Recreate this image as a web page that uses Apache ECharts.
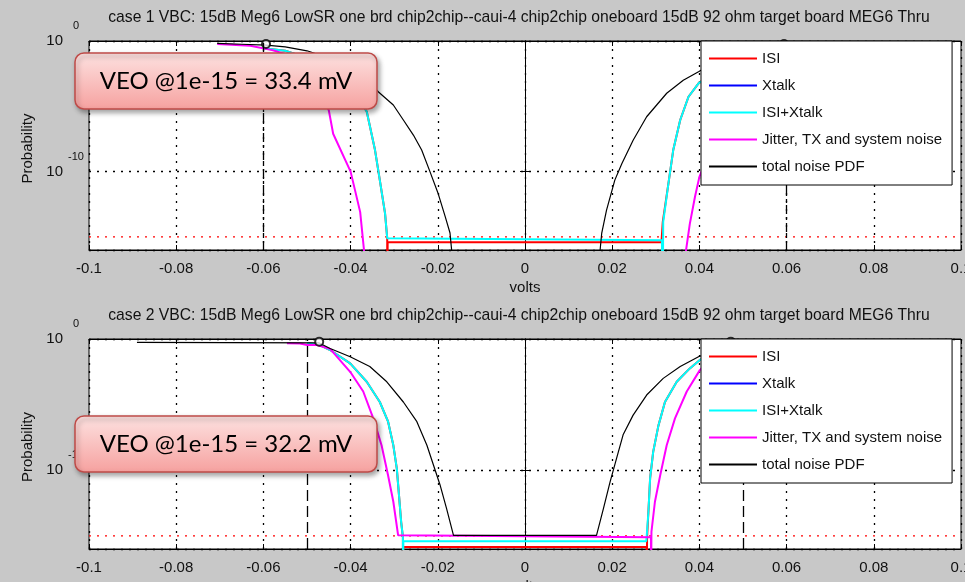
<!DOCTYPE html>
<html>
<head>
<meta charset="utf-8">
<script src="https://cdn.jsdelivr.net/npm/echarts@6/dist/echarts.min.js"></script>
<style>
html,body{margin:0;padding:0;background:#c8c8c8;}
#main{width:965px;height:582px;}
</style>
</head>
<body>
<div id="main"></div>
<script>
// curve points: [volts, log10(probability)]
var names = ['ISI', 'Xtalk', 'ISI+Xtalk', 'Jitter, TX and system noise', 'total noise PDF'];
var titles = [
	'case 1 VBC: 15dB Meg6 LowSR one brd chip2chip--caui-4 chip2chip oneboard 15dB 92 ohm target board MEG6 Thru',
	'case 2 VBC: 15dB Meg6 LowSR one brd chip2chip--caui-4 chip2chip oneboard 15dB 92 ohm target board MEG6 Thru'
];
var veoText = ['VEO @1e-15 = 33.4 mV', 'VEO @1e-15 = 32.2 mV'];
var berTarget = 1e-15;
var berLine = [[-0.1, berTarget], [0.1, berTarget]];

// case 1
var c1Isi = [[-0.060,-0.55],[-0.055,-0.75],[-0.050,-1.3],[-0.045,-2.2],[-0.040,-3.5],[-0.0363,-5.4],[-0.0344,-8.35],
	[-0.0333,-10.65],[-0.0321,-13.2],[-0.0316,-15.1],[-0.0316,-20],[-0.0315,-15.4],[0.0313,-15.4],[0.0316,-13.85],
	[0.0329,-10.9],[0.034,-8.35],[0.0356,-6.05],[0.0375,-4.27],[0.0398,-3.24],[0.045,-2.0],[0.050,-1.25],[0.055,-0.75],[0.060,-0.55]];
var c1Xtalk = [];
var c1IsiXtalk = [[-0.060,-0.55],[-0.055,-0.75],[-0.050,-1.3],[-0.045,-2.2],[-0.040,-3.5],[-0.0363,-5.4],[-0.0344,-8.35],
	[-0.0333,-10.65],[-0.0321,-13.2],[-0.0316,-15.1],[-0.0316,-15.25],[0.0314,-15.25],[0.0316,-20],[0.0317,-13.85],
	[0.0329,-10.9],[0.034,-8.35],[0.0356,-6.05],[0.0375,-4.27],[0.0398,-3.24],[0.045,-2.0],[0.050,-1.25],[0.055,-0.75],[0.060,-0.55]];
var c1Jitter = [[-0.0706,-0.23],[-0.063,-0.36],[-0.058,-0.7],[-0.055,-1.0],[-0.050,-2.0],[-0.045,-5.3],[-0.044,-7.1],
	[-0.040,-10.0],[-0.0378,-13.1],[-0.0369,-16.1],[-0.0368,-20],[0.0368,-20],[0.0369,-16.1],[0.0378,-14.0],[0.039,-11.9],
	[0.040,-10.4],[0.044,-7.1],[0.045,-5.3],[0.050,-2.0],[0.055,-1.0],[0.058,-0.7],[0.063,-0.36],[0.0706,-0.23]];
var c1Total = [[-0.0706,-0.18],[-0.065,-0.25],[-0.0594,-0.32],[-0.055,-0.45],[-0.050,-0.75],[-0.045,-1.3],[-0.0398,-2.35],
	[-0.0363,-3.0],[-0.0336,-3.9],[-0.0302,-4.9],[-0.0279,-6.05],[-0.0256,-7.2],[-0.0237,-8.35],[-0.0218,-10.0],[-0.0199,-11.7],
	[-0.0183,-13.45],[-0.0172,-14.7],[-0.0168,-16.1],[-0.0166,-20],[0.0170,-20],[0.0172,-16.1],[0.0176,-14.7],[0.0187,-12.95],
	[0.0206,-10.65],[0.0222,-9.4],[0.0248,-7.6],[0.0279,-5.8],[0.0325,-4.0],[0.0363,-3.0],[0.0398,-2.35],[0.045,-1.3],
	[0.050,-0.75],[0.055,-0.45],[0.0594,-0.32],[0.065,-0.25],[0.0706,-0.18]];
var c1EyeEdges = [-0.0594, 0.0594];
var c1EyeLevel = -0.23;

// case 2
var c2Isi = [[-0.050,-0.3],[-0.0472,-0.45],[-0.0447,-0.84],[-0.0401,-1.86],[-0.0363,-3.26],[-0.0333,-4.8],[-0.0314,-6.3],
	[-0.0302,-8.1],[-0.0294,-9.87],[-0.0289,-11.9],[-0.0284,-13.95],[-0.028,-15.1],[-0.028,-20],[-0.0279,-15.85],[0.0279,-15.85],
	[0.0279,-20],[0.028,-15.1],[0.0283,-13.2],[0.0287,-10.6],[0.0294,-8.6],[0.0306,-6.6],[0.0321,-4.8],[0.0348,-3.26],
	[0.0378,-2.24],[0.0401,-1.6],[0.0447,-0.84],[0.0472,-0.45],[0.050,-0.3]];
var c2Xtalk = [];
var c2IsiXtalk = [[-0.050,-0.3],[-0.0472,-0.45],[-0.0447,-0.84],[-0.0401,-1.86],[-0.0363,-3.26],[-0.0333,-4.8],[-0.0314,-6.3],
	[-0.0302,-8.1],[-0.0294,-9.87],[-0.0289,-11.9],[-0.0284,-13.95],[-0.028,-15.1],[-0.028,-20],[-0.0279,-15.4],[0.0278,-15.4],
	[0.0279,-15.1],[0.0283,-13.2],[0.0287,-10.6],[0.0294,-8.6],[0.0306,-6.6],[0.0321,-4.8],[0.0348,-3.26],[0.0378,-2.24],
	[0.0401,-1.6],[0.0447,-0.84],[0.0472,-0.45],[0.050,-0.3]];
var c2Jitter = [[-0.0546,-0.33],[-0.0516,-0.35],[-0.050,-0.45],[-0.0477,-0.46],[-0.0447,-0.75],[-0.0401,-2.5],[-0.0371,-4.0],
	[-0.0348,-6.05],[-0.0329,-8.1],[-0.0314,-10.4],[-0.0302,-12.4],[-0.0291,-14.96],[-0.0289,-15.1],[0.0289,-15.1],[0.0289,-20],
	[0.029,-14.7],[0.0298,-12.4],[0.031,-10.4],[0.0325,-8.1],[0.0344,-6.05],[0.0371,-4.0],[0.0401,-2.37],[0.0447,-0.75],
	[0.0477,-0.46],[0.050,-0.45],[0.0516,-0.35],[0.0546,-0.33]];
var c2Total = [[-0.089,-0.25],[-0.0472,-0.3],[-0.0447,-0.72],[-0.0401,-1.35],[-0.0356,-2.1],[-0.0317,-3.26],[-0.0279,-4.8],
	[-0.0248,-6.3],[-0.0225,-8.1],[-0.021,-9.6],[-0.0195,-11.1],[-0.018,-12.9],[-0.0164,-14.96],[0.0164,-14.96],[0.0168,-14.45],
	[0.018,-12.9],[0.0195,-10.9],[0.021,-9.1],[0.0225,-7.3],[0.0248,-5.8],[0.0279,-4.27],[0.0317,-3.0],[0.0356,-2.1],
	[0.0398,-1.35],[0.0447,-0.72],[0.0472,-0.3],[0.089,-0.25]];
var c2EyeEdges = [-0.0472, 0.0472];
var c2EyeLevel = -0.2;

var cases = [
	{ curves: [c1Isi, c1Xtalk, c1IsiXtalk, c1Jitter, c1Total], edges: c1EyeEdges, level: c1EyeLevel, dash: [9, 3, 3, 3] },
	{ curves: [c2Isi, c2Xtalk, c2IsiXtalk, c2Jitter, c2Total], edges: c2EyeEdges, level: c2EyeLevel, dash: [11, 5] }
];

var FONT = '"Liberation Sans", Arial, sans-serif';
var colors = ['#ff0000', '#0000ff', '#00ffff', '#ff00ff', '#000000'];
var widths = [2, 2, 2, 2, 1.2];
var grids = [
	{ left: 89, top: 41, width: 872, height: 209 },
	{ left: 89, top: 339, width: 872, height: 210 }
];

function toProb(pts) {
	return pts.map(function(p){ return [p[0], Math.pow(10, p[1])]; });
}

var xAxes = [], yAxes = [], series = [], legends = [], graphics = [];
grids.forEach(function(g, gi){
	g.show = true;
	g.backgroundColor = '#fff';
	g.borderColor = '#000';
	g.borderWidth = 1;
	g.outerBoundsMode = 'none';
	g.containLabel = false;

	xAxes.push({
		gridIndex: gi, type: 'value', min: -0.1, max: 0.1, interval: 0.02,
		name: 'volts', nameLocation: 'middle', nameGap: 30,
		nameTextStyle: { fontFamily: FONT, fontSize: 15, color: '#111' },
		axisLine: { onZero: false, lineStyle: { color: '#000', width: 1 } },
		axisTick: { inside: true, length: 5, lineStyle: { color: '#000' } },
		axisLabel: { margin: 11, fontFamily: FONT, fontSize: 15, color: '#111' },
		splitLine: { show: true, lineStyle: { color: '#000', type: [2, 6], width: 1.3 } }
	});
	xAxes.push({
		gridIndex: gi, type: 'value', position: 'top', min: -0.1, max: 0.1, interval: 0.02,
		axisLine: { onZero: false, lineStyle: { color: '#000', width: 1 } },
		axisTick: { inside: true, length: 5, lineStyle: { color: '#000' } },
		axisLabel: { show: false }, splitLine: { show: false }
	});
	yAxes.push({
		gridIndex: gi, type: 'log', logBase: 10, min: 1e-16, max: 1, splitNumber: 2,
		name: 'Probability', nameLocation: 'middle', nameGap: 52,
		nameTextStyle: { fontFamily: FONT, fontSize: 15, color: '#111', padding: [0, 0, 0, -6] },
		axisLine: { lineStyle: { color: '#000', width: 1 } },
		axisTick: { inside: true, length: 5, lineStyle: { color: '#000' } },
		axisLabel: {
			showMinLabel: false, margin: 3,
			formatter: function(v){
				var e = Math.round(Math.log10(v));
				return '{b|10}{e|' + e + '}';
			},
			rich: {
				b: { fontFamily: FONT, fontSize: 15, color: '#111', lineHeight: 15, verticalAlign: 'middle' },
				e: { fontFamily: FONT, fontSize: 11, color: '#111', lineHeight: 11, verticalAlign: 'middle',
					padding: [0, 0, 30, 3], width: 20, align: 'left' }
			}
		},
		splitLine: { show: true, lineStyle: { color: '#000', type: [2, 6], width: 1.3 } }
	});
	yAxes.push({
		gridIndex: gi, type: 'log', logBase: 10, min: 1e-16, max: 1, splitNumber: 2, position: 'right',
		axisLine: { lineStyle: { color: '#000', width: 1 } },
		axisTick: { inside: true, length: 5, lineStyle: { color: '#000' } },
		axisLabel: { show: false }, splitLine: { show: false }
	});

	var c = cases[gi];
	// 1e-15 reference line
	series.push({
		type: 'line', xAxisIndex: gi * 2, yAxisIndex: gi * 2, data: berLine, silent: true,
		symbol: 'none', lineStyle: { color: '#ff0000', type: [2, 6], width: 1.3 }, z: 2
	});
	c.curves.forEach(function(pts, si){
		series.push({
			type: 'line', name: names[si], xAxisIndex: gi * 2, yAxisIndex: gi * 2,
			data: toProb(pts), symbol: 'none', showSymbol: false, color: colors[si],
			lineStyle: { color: colors[si], width: widths[si] }, z: 3, clip: true
		});
	});
	// eye edge markers
	series.push({
		type: 'scatter', xAxisIndex: gi * 2, yAxisIndex: gi * 2, silent: true,
		data: toProb(c.edges.map(function(x){ return [x, c.level]; })),
		symbol: 'emptyCircle', symbolSize: 8, itemStyle: { color: '#000', borderColor: '#000', borderWidth: 1 }, z: 3,
		markLine: {
			silent: true, symbol: ['none', 'none'], label: { show: false },
			lineStyle: { color: '#000', type: c.dash, width: 1.3 },
			data: c.edges.map(function(x){ return { xAxis: x }; })
		}
	});

	legends.push({
		data: names, orient: 'vertical', left: 701, top: g.top, selectedMode: false, z: 10,
		icon: 'rect', itemWidth: 48, itemHeight: 2, itemGap: 12, padding: [10, 10, 11, 8],
		backgroundColor: '#fff', borderColor: '#000', borderWidth: 1, borderRadius: 0,
		textStyle: { fontFamily: FONT, fontSize: 15, color: '#111' }
	});

	graphics.push({
		type: 'text', x: 519, y: g.top - 23, z: 50,
		style: { text: titles[gi], font: '15.7px ' + FONT, fill: '#111', align: 'center', verticalAlign: 'middle' }
	});
	var by = gi === 0 ? 53 : 416;
	graphics.push({
		type: 'rect', x: 75, y: by, z: 100,
		shape: { x: 0, y: 0, width: 302, height: 56, r: 9 },
		style: {
			fill: new echarts.graphic.LinearGradient(0, 0, 0, 1, [
				{ offset: 0, color: '#fde2e1' }, { offset: 1, color: '#f6a19f' }
			]),
			stroke: '#be4b48', lineWidth: 1.5,
			shadowBlur: 5, shadowOffsetX: 2, shadowOffsetY: 3, shadowColor: 'rgba(0,0,0,0.35)'
		}
	});
	graphics.push({
		type: 'text', x: 226, y: by + 28, z: 101,
		style: { text: veoText[gi], font: '24px Lato, "Open Sans", sans-serif', fill: '#000', align: 'center', verticalAlign: 'middle' }
	});
});

var chart = echarts.init(document.getElementById('main'), null, { renderer: 'canvas' });
chart.setOption({
	backgroundColor: '#c8c8c8',
	animation: false,
	grid: grids,
	xAxis: xAxes,
	yAxis: yAxes,
	legend: legends,
	series: series,
	graphic: graphics
});
</script>
</body>
</html>
